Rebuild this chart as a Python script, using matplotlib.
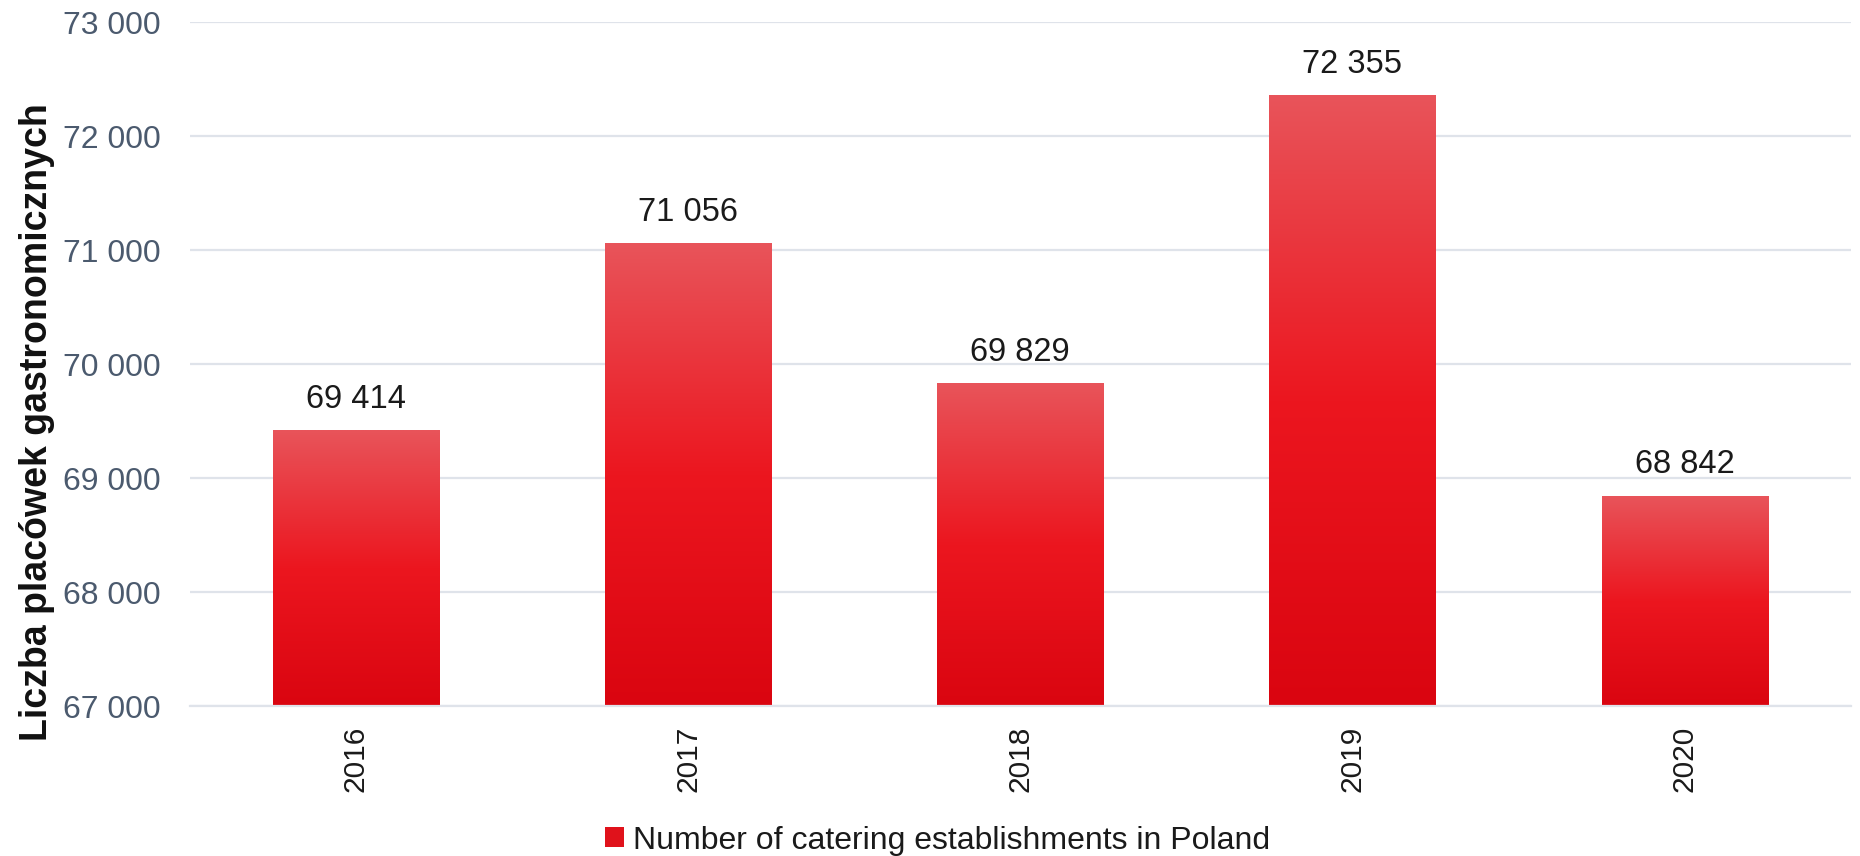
import numpy as np
import matplotlib
matplotlib.use('Agg')
import matplotlib.pyplot as plt
from matplotlib.colors import LinearSegmentedColormap
from matplotlib.patches import Patch

plt.rcParams['font.family'] = ['Liberation Sans', 'DejaVu Sans']

# dane
years = ['2016', '2017', '2018', '2019', '2020']
values = [69414, 71056, 69829, 72355, 68842]
y_ticks = [67000, 68000, 69000, 70000, 71000, 72000, 73000]
series_name = 'Number of catering establishments in Poland'
y_label = 'Liczba placówek gastronomicznych'

def fmt(v):
    return '{:,}'.format(v).replace(',', ' ')

# gradient: od dołu ciemna czerwień, na górze jaśniejsza
grad = LinearSegmentedColormap.from_list('red_grad', ['#DA0510', '#EC161F', '#E8545A'])

fig = plt.figure(figsize=(18.6, 8.56), dpi=100)
ax = fig.add_axes([0.102, 0.175, 0.893, 0.799])

ymin, ymax = 67000, 73000
bar_w = 0.5
x = np.arange(len(years))
bars = ax.bar(x, values, width=bar_w, color='none', zorder=2)
g = np.linspace(0, 1, 256).reshape(-1, 1)
for b, v in zip(bars, values):
    x0 = b.get_x()
    ax.imshow(g, cmap=grad, origin='lower', aspect='auto',
              extent=[x0, x0 + bar_w, ymin, v], zorder=2)
    ax.text(b.get_x() + bar_w / 2, v + 140, fmt(v), ha='center', va='bottom',
            fontsize=23.5, color='#1a1a1a')

ax.set_xlim(-0.5, len(years) - 0.5)
ax.set_ylim(ymin, ymax)
ax.set_yticks(y_ticks)
ax.set_yticklabels([fmt(t) for t in y_ticks], fontsize=23, color='#4B5A6E')
ax.set_xticks(x)
ax.set_xticklabels(years, rotation=90, fontsize=21.5, color='#1a1a1a')
ax.tick_params(axis='both', length=0)
ax.tick_params(axis='y', pad=21)
ax.tick_params(axis='x', pad=14)
ax.grid(axis='y', color='#DFE3EA', linewidth=1.6, zorder=0)
for s in ['top', 'right', 'left']:
    ax.spines[s].set_visible(False)
ax.spines['bottom'].set_color('#DFE3EA')
ax.spines['bottom'].set_linewidth(1.6)

ax.set_ylabel(y_label, fontsize=27, fontweight='bold', color='#111111')
ax.yaxis.set_label_coords(-0.081, 0.415)

handle = Patch(facecolor='#E0121B', edgecolor='none')
leg = fig.legend([handle], [series_name], loc='center', bbox_to_anchor=(0.504, 0.018),
                 frameon=False, fontsize=23, handlelength=0.6, handleheight=0.6,
                 handletextpad=0.3)
for t in leg.get_texts():
    t.set_color('#1a1a1a')

fig.savefig('out.png', dpi=100)
